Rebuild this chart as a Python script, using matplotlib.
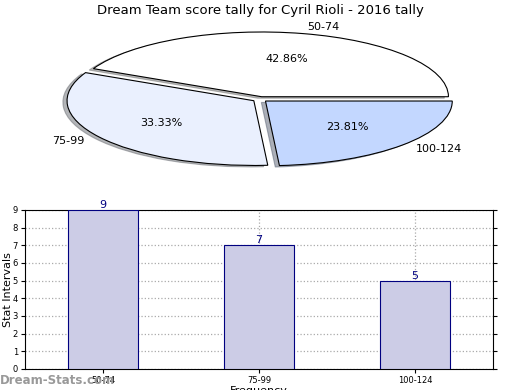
import matplotlib
matplotlib.use("Agg")
import matplotlib.pyplot as plt

categories = ["50-74", "75-99", "100-124"]
counts = [9, 7, 5]
pie_colors = ["#ffffff", "#eaf0fe", "#c3d7ff"]
title = "Dream Team score tally for Cyril Rioli - 2016 tally"

fig = plt.figure(figsize=(5.2, 3.9), dpi=100)

# Pie
axp = fig.add_axes([0.051, 0.538, 0.898, 0.415])
wedges, texts, autotexts = axp.pie(
    counts, labels=categories, colors=pie_colors, autopct="%.2f%%",
    explode=[0.04] * len(counts),
    shadow=dict(ox=-0.016, oy=-0.016, shade=0.55),
    startangle=0,
    wedgeprops=dict(edgecolor="black", linewidth=0.8),
    textprops=dict(fontsize=8))
axp.set_aspect("auto")
axp.set_xlim(-1.25, 1.25)
axp.set_ylim(-1.25, 1.25)
fig.text(0.5, 0.972, title, ha="center", va="center", fontsize=9.5)

# Bars
axb = fig.add_axes([0.048, 0.054, 0.9, 0.408])
x = list(range(len(categories)))
bars = axb.bar(x, counts, width=0.45, color="#ccccE6", edgecolor="#000080",
               linewidth=0.8, zorder=3)
for xi, c in zip(x, counts):
    axb.text(xi, c, str(c), ha="center", va="bottom", color="#000080", fontsize=8, zorder=4)
axb.set_xlim(-0.5, 2.5)
axb.set_ylim(0, 9)
axb.set_xticks(x)
axb.set_xticklabels(categories)
axb.set_yticks(range(10))
axb.tick_params(labelsize=6, length=3, pad=2)
axb.tick_params(axis="y", right=True, direction="out")
axb.grid(True, linestyle=":", color="#aaaaaa", linewidth=0.9, zorder=0)
axb.set_ylabel("Stat Intervals", fontsize=8)
axb.yaxis.set_label_coords(-0.026, 0.5)
axb.set_xlabel("Frequency", fontsize=8, labelpad=1)

fig.text(0.0, 0.025, "Dream-Stats.com", ha="left", va="center", fontsize=8.5,
         fontweight="bold", color="#999999")

fig.savefig("out.png", dpi=100)
